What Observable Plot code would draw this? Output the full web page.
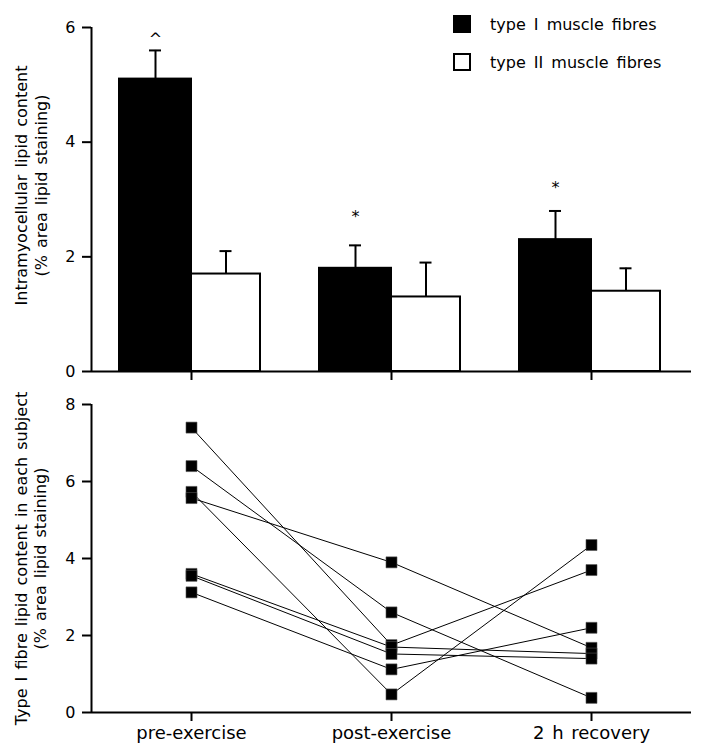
<!DOCTYPE html>
<html>
<head>
<meta charset="utf-8">
<script src="https://cdn.jsdelivr.net/npm/d3@7"></script>
<script src="https://cdn.jsdelivr.net/npm/@observablehq/plot@0.6"></script>
<style>
  body { margin: 0; background: #fff; }
  #chart { position: relative; width: 709px; height: 754px; font-family: "DejaVu Sans", sans-serif; }
  #chart svg { display: block; }
  #chart svg g[aria-label$="tick"] path { stroke-width: 2px; }
  .legend { position: absolute; left: 453px; top: 0; font-family: "DejaVu Sans", sans-serif; font-size: 16px; word-spacing: 3px; color: #000; }
  .legend .row { position: absolute; left: 0; height: 18px; display: flex; align-items: center; white-space: nowrap; }
  .legend .sw { width: 18px; height: 18px; box-sizing: border-box; border: 2px solid #000; margin-right: 19px; flex: none; }
</style>
</head>
<body>
<div id="chart"></div>
<script>
// ---- data ----
const categories = ["pre-exercise", "post-exercise", "2 h recovery"];
const typeIMean = [5.1, 1.8, 2.3];
const typeISE = [0.5, 0.4, 0.5];
const typeIIMean = [1.7, 1.3, 1.4];
const typeIISE = [0.4, 0.6, 0.4];
const markers = ["^", "*", "*"];
const markerY = [5.8, 2.7, 3.2];
const seriesNames = ["type I muscle fibres", "type II muscle fibres"];
const subjectPre = [7.4, 6.4, 5.73, 5.57, 3.6, 3.55, 3.12];
const subjectPost = [1.75, 2.6, 0.47, 3.9, 1.7, 1.52, 1.12];
const subjectRecovery = [3.7, 0.38, 4.35, 1.68, 1.53, 1.4, 2.2];
const topTicks = [0, 2, 4, 6];
const bottomTicks = [0, 2, 4, 6, 8];

// ---- derived tables ----
const typeIRows = categories.map((c, i) => ({cat: c, mean: typeIMean[i], top: typeIMean[i] + typeISE[i]}));
const typeIIRows = categories.map((c, i) => ({cat: c, mean: typeIIMean[i], top: typeIIMean[i] + typeIISE[i]}));
const noteRows = categories.map((c, i) => ({cat: c, y: markerY[i], text: markers[i]}));
const subjectRows = [];
subjectPre.forEach((v, s) => {
  subjectRows.push({subject: s, cat: categories[0], value: subjectPre[s]});
  subjectRows.push({subject: s, cat: categories[1], value: subjectPost[s]});
  subjectRows.push({subject: s, cat: categories[2], value: subjectRecovery[s]});
});

const W = 709, ML = 91, MR = 18;
const halfBand = (W - ML - MR) / categories.length / 2;
const baseStyle = {fontFamily: "DejaVu Sans, sans-serif", fontSize: "16px", wordSpacing: "2px", background: "#fff", overflow: "visible"};

const topPanel = Plot.plot({
  width: W, height: 390,
  marginTop: 27, marginBottom: 19, marginLeft: ML, marginRight: MR,
  style: baseStyle,
  x: {type: "band", domain: categories, padding: 0, axis: null},
  y: {domain: [0, 6], axis: null},
  marks: [
    Plot.barY(typeIRows, {x: "cat", y: "mean", fill: "#000", stroke: "#000", strokeWidth: 2, insetLeft: 28, insetRight: 100}),
    Plot.barY(typeIIRows, {x: "cat", y: "mean", fill: "#fff", stroke: "#000", strokeWidth: 2, insetLeft: 100, insetRight: 31}),
    Plot.ruleX(typeIRows, {x: "cat", y1: "mean", y2: "top", dx: -36, strokeWidth: 2}),
    Plot.tickY(typeIRows, {x: "cat", y: "top", insetLeft: 58, insetRight: 130, strokeWidth: 2}),
    Plot.ruleX(typeIIRows, {x: "cat", y1: "mean", y2: "top", dx: 34.5, strokeWidth: 2}),
    Plot.tickY(typeIIRows, {x: "cat", y: "top", insetLeft: 128.5, insetRight: 59.5, strokeWidth: 2}),
    Plot.text(noteRows, {x: "cat", y: "y", text: "text", dx: -36, fontSize: 16}),
    Plot.ruleY([0], {strokeWidth: 2}),
    Plot.ruleX([categories[0]], {x: d => d, y1: 0, y2: 6, dx: -halfBand, strokeWidth: 2}),
    Plot.axisY({ticks: topTicks, tickFormat: d => String(d), tickSize: 9, tickPadding: 7, fontSize: 16, strokeWidth: 2, label: null}),
    Plot.axisX({tickSize: 9, tickFormat: () => "", strokeWidth: 2, label: null}),
    Plot.text(["Intramyocellular lipid content\n(% area lipid staining)"], {frameAnchor: "left", rotate: -90, dx: -61, dy: -14, lineHeight: 1.25, fontSize: 16, textAnchor: "middle", lineAnchor: "middle"})
  ]
});

const bottomPanel = Plot.plot({
  width: W, height: 364,
  marginTop: 14, marginBottom: 42, marginLeft: ML, marginRight: MR,
  style: baseStyle,
  x: {type: "band", domain: categories, padding: 0, axis: null},
  y: {domain: [0, 8], axis: null},
  marks: [
    Plot.line(subjectRows, {x: "cat", y: "value", z: "subject", stroke: "#000", strokeWidth: 1}),
    Plot.dot(subjectRows, {x: "cat", y: "value", symbol: "square", r: 6.2, fill: "#000", stroke: "#555", strokeWidth: 0.6}),
    Plot.ruleY([0], {strokeWidth: 2}),
    Plot.ruleX([categories[0]], {x: d => d, y1: 0, y2: 8, dx: -halfBand, strokeWidth: 2}),
    Plot.axisY({ticks: bottomTicks, tickFormat: d => String(d), tickSize: 9, tickPadding: 7, fontSize: 16, strokeWidth: 2, label: null}),
    Plot.axisX({tickSize: 9, tickPadding: 5, fontSize: 18, strokeWidth: 2, label: null}),
    Plot.text(["Type I fibre lipid content in each subject\n(% area lipid staining)"], {frameAnchor: "left", rotate: -90, dx: -61, dy: 0, lineHeight: 1.2, fontSize: 16, textAnchor: "middle", lineAnchor: "middle"})
  ]
});

const chartEl = document.getElementById("chart");
chartEl.appendChild(topPanel);
chartEl.appendChild(bottomPanel);

// legend (HTML overlay inside the top panel)
const legendEl = document.createElement("div");
legendEl.className = "legend";
seriesNames.forEach((name, i) => {
  const row = document.createElement("div");
  row.className = "row";
  row.style.top = (15 + i * 38) + "px";
  const sw = document.createElement("span");
  sw.className = "sw";
  sw.style.background = i === 0 ? "#000" : "#fff";
  const label = document.createElement("span");
  label.textContent = name;
  row.appendChild(sw);
  row.appendChild(label);
  legendEl.appendChild(row);
});
chartEl.appendChild(legendEl);
</script>
</body>
</html>
